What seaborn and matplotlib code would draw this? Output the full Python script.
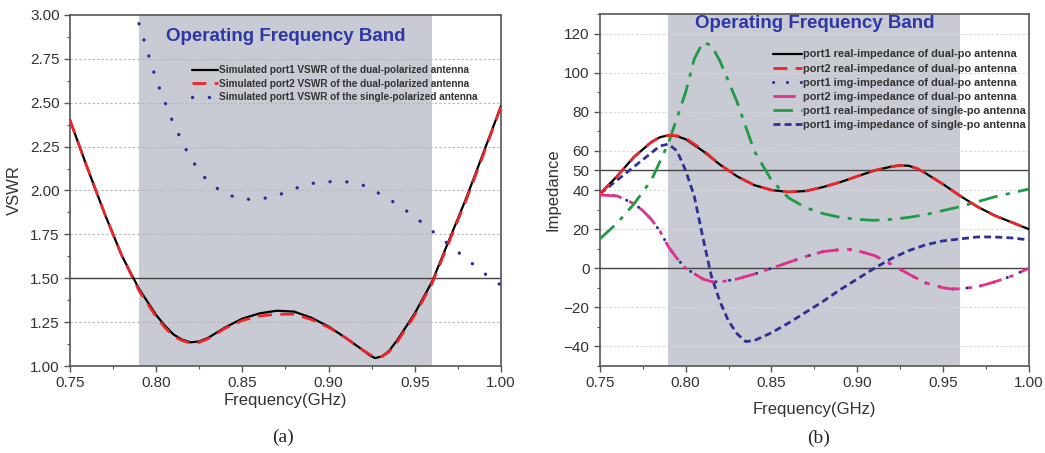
import numpy as np
import pandas as pd
import matplotlib
matplotlib.use("Agg")
import matplotlib.pyplot as plt
import seaborn as sns
from matplotlib.ticker import MultipleLocator, FixedLocator, FormatStrFormatter

# ---------------- data: panel (a) VSWR ----------------
freq_dual = [0.75, 0.76, 0.77, 0.78, 0.79, 0.80, 0.805, 0.81, 0.815, 0.82, 0.825, 0.83, 0.84,
             0.85, 0.86, 0.87, 0.88, 0.89, 0.90, 0.91, 0.92, 0.924, 0.927, 0.931, 0.935,
             0.94, 0.95, 0.96, 0.97, 0.98, 0.99, 1.00]
vswr_port1 = [2.40, 2.13, 1.87, 1.63, 1.44, 1.29, 1.23, 1.18, 1.15, 1.135, 1.14, 1.16, 1.22,
              1.27, 1.30, 1.315, 1.31, 1.275, 1.225, 1.16, 1.09, 1.06, 1.045, 1.055, 1.085,
              1.15, 1.30, 1.48, 1.72, 1.96, 2.22, 2.48]
vswr_port2 = [2.40, 2.13, 1.87, 1.63, 1.43, 1.28, 1.22, 1.17, 1.145, 1.13, 1.135, 1.155, 1.215,
              1.26, 1.285, 1.295, 1.295, 1.265, 1.22, 1.16, 1.09, 1.065, 1.05, 1.055, 1.08,
              1.14, 1.29, 1.47, 1.71, 1.95, 2.21, 2.48]
freq_single = [0.79, 0.80, 0.81, 0.82, 0.83, 0.84, 0.85, 0.86, 0.87, 0.88, 0.89, 0.90, 0.91,
               0.92, 0.93, 0.94, 0.95, 0.96, 0.97, 0.98, 0.99, 1.00]
vswr_single = [2.95, 2.63, 2.38, 2.18, 2.05, 1.98, 1.95, 1.95, 1.97, 2.01, 2.04, 2.05, 2.05,
               2.03, 1.98, 1.92, 1.85, 1.77, 1.69, 1.61, 1.53, 1.46]

# ---------------- data: panel (b) impedance ----------------
freq_b = [0.75, 0.76, 0.77, 0.78, 0.785, 0.79, 0.795, 0.80, 0.81, 0.82, 0.83, 0.84, 0.85,
          0.86, 0.87, 0.88, 0.89, 0.90, 0.91, 0.92, 0.925, 0.93, 0.935, 0.94, 0.95, 0.96,
          0.97, 0.98, 0.99, 1.00]
real_port1 = [38, 47, 57, 64.5, 67, 68, 67.5, 66, 60, 53, 47, 42.5, 40,
              39, 39.5, 41.5, 44, 47, 50, 52, 52.6, 52.4, 51, 48.5, 43, 37,
              31.5, 27, 23.5, 20]
real_port2 = [38, 47, 57, 64.5, 67, 68, 67.8, 66.5, 60.5, 53, 47, 42.5, 40,
              39, 39.5, 41.5, 44, 47, 50, 52, 52.6, 52.4, 51, 48.5, 43, 37,
              31.5, 27, 23.5, 20]

freq_img = [0.75, 0.76, 0.77, 0.775, 0.78, 0.785, 0.79, 0.795, 0.80, 0.81, 0.815, 0.82, 0.83,
            0.84, 0.85, 0.86, 0.87, 0.88, 0.89, 0.895, 0.90, 0.91, 0.92, 0.93, 0.94, 0.95,
            0.955, 0.96, 0.97, 0.98, 0.99, 1.00]
img_port1 = [37.5, 37, 33, 29.5, 25, 19, 11, 5, 0, -5.5, -6.8, -7, -5.5,
             -3, 0, 3, 6, 8.5, 9.5, 9.6, 9, 6.5, 2, -3, -7.5, -10,
             -10.6, -10.5, -9.5, -7, -4, 0]
img_port2 = [37.5, 37, 33, 29.5, 25, 19, 11, 5, 0, -5.5, -6.8, -7, -5.5,
             -3, 0, 3, 6, 8.5, 9.5, 9.6, 9, 6.5, 2, -3, -7.5, -10,
             -10.6, -10.5, -9.5, -7, -4, 0]

freq_sr = [0.75, 0.76, 0.77, 0.78, 0.79, 0.80, 0.805, 0.81, 0.815, 0.82, 0.83, 0.84, 0.85,
           0.86, 0.87, 0.88, 0.89, 0.90, 0.91, 0.92, 0.93, 0.94, 0.95, 0.96, 0.97, 0.98,
           0.99, 1.00]
real_single = [15, 23, 33, 45, 64, 90, 107, 115.5, 114, 106, 85, 60, 45,
               36, 31, 28, 26, 25, 24.5, 25, 26, 27.5, 29.5, 31.5, 34, 36.5,
               38.5, 40.5]

freq_si = [0.75, 0.76, 0.77, 0.78, 0.785, 0.79, 0.795, 0.80, 0.805, 0.81, 0.815, 0.82,
           0.825, 0.83, 0.835, 0.84, 0.85, 0.86, 0.87, 0.88, 0.89, 0.90, 0.91, 0.92,
           0.93, 0.94, 0.95, 0.96, 0.97, 0.98, 0.99, 1.00]
img_single = [38, 45, 52, 59, 62.5, 63.5, 60, 50, 37, 16, -4, -17,
              -27, -33.5, -37.5, -37, -33, -28, -22.5, -17, -11, -5.5, 0, 5,
              9, 12, 14, 15, 16, 16, 15.5, 14.5]

band = (0.79, 0.96)

legend_a = ["Simulated port1 VSWR of the dual-polarized antenna",
            "Simulated port2 VSWR of the dual-polarized antenna",
            "Simulated port1 VSWR of the single-polarized antenna"]
legend_b = ["port1 real-impedance of dual-po antenna",
            "port2 real-impedance of dual-po antenna",
            "port1 img-impedance of dual-po antenna",
            "port2 img-impedance of dual-po antenna",
            "port1 real-impedance of single-po antenna",
            "port1 img-impedance of single-po antenna"]

# ---------------- style ----------------
sns.set_theme(style="ticks")
plt.rcParams['font.family'] = ['Liberation Sans', 'DejaVu Sans']
plt.rcParams['axes.edgecolor'] = '#555555'
plt.rcParams['xtick.color'] = '#555555'
plt.rcParams['ytick.color'] = '#555555'
plt.rcParams['xtick.labelcolor'] = '#333333'
plt.rcParams['ytick.labelcolor'] = '#333333'

fig = plt.figure(figsize=(10.45, 4.53), dpi=100)
ax1 = fig.add_axes([0.067, 0.192, 0.4124, 0.775])
ax2 = fig.add_axes([0.574, 0.192, 0.4105, 0.777])

band_color = '#c8cbd3'
title_color = '#2e37a5'


def style_axes(ax):
    for s in ax.spines.values():
        s.set_linewidth(1.2)
        s.set_color('#555555')
    ax.tick_params(which='major', direction='out', length=4, width=1, labelsize=11)
    ax.tick_params(which='minor', direction='out', length=2.5, width=0.8)
    ax.set_xlim(0.75, 1.0)
    ax.xaxis.set_major_locator(MultipleLocator(0.05))
    ax.xaxis.set_minor_locator(MultipleLocator(0.025))
    ax.xaxis.set_major_formatter(FormatStrFormatter('%.2f'))


# ---------------- panel (a) ----------------
ax1.axvspan(*band, color=band_color, lw=0, zorder=0)
ax1.set_ylim(1.0, 3.0)
ax1.yaxis.set_major_locator(MultipleLocator(0.25))
ax1.yaxis.set_minor_locator(MultipleLocator(0.125))
ax1.yaxis.set_major_formatter(FormatStrFormatter('%.2f'))
for yv in np.arange(1.25, 3.0, 0.25):
    ax1.axhline(yv, color='#b5b5b5', lw=0.8, ls=(0, (2, 2)), zorder=0.5)
ax1.axhline(1.5, color='#444444', lw=1.0, zorder=1)

df_a1 = pd.DataFrame({"f": freq_dual, "v": vswr_port1})
df_a2 = pd.DataFrame({"f": freq_dual, "v": vswr_port2})
df_a3 = pd.DataFrame({"f": freq_single, "v": vswr_single})
sns.lineplot(data=df_a1, x="f", y="v", ax=ax1, color='black', lw=1.6, label=legend_a[0], zorder=3)
sns.lineplot(data=df_a2, x="f", y="v", ax=ax1, color='#e8262b', lw=2.0,
             linestyle=(0, (5, 3)), label=legend_a[1], zorder=4)
sns.lineplot(data=df_a3, x="f", y="v", ax=ax1, color='#2a2d9a', lw=2.4,
             linestyle=(0, (0.05, 5)), label=legend_a[2], zorder=3)
ax1.lines[-1].set_dash_capstyle('round')
style_axes(ax1)
ax1.set_xlabel("Frequency(GHz)", fontsize=12, color='#333333', labelpad=2)
ax1.set_ylabel("VSWR", fontsize=12, color='#333333', labelpad=6)
ax1.text(0.875, 2.88, "Operating Frequency Band", ha='center', va='center',
         fontsize=13.5, fontweight='bold', color=title_color)
leg1 = ax1.legend(loc='upper right', bbox_to_anchor=(0.955, 0.868), frameon=False,
                  prop={'size': 7.2, 'weight': 'bold'}, handlelength=2.6,
                  handletextpad=0.1, labelspacing=0.35, borderaxespad=0)
for t in leg1.get_texts():
    t.set_color('#333333')
for h in leg1.get_lines()[2:]:
    h.set_dash_capstyle('round')

# ---------------- panel (b) ----------------
ax2.axvspan(*band, color=band_color, lw=0, zorder=0)
ax2.set_ylim(-50, 130)
ax2.yaxis.set_major_locator(FixedLocator([-40, -20, 0, 20, 40, 50, 60, 80, 100, 120]))
ax2.yaxis.set_minor_locator(MultipleLocator(10))
for yv in [-40, -20, 20, 40, 60, 80, 100, 120]:
    ax2.axhline(yv, color='#d5d5d5', lw=0.8, ls=(0, (2, 2)), zorder=0.5)
ax2.axhline(50, color='#444444', lw=1.0, zorder=1)
ax2.axhline(0, color='#444444', lw=1.0, zorder=1)

df_b1 = pd.DataFrame({"f": freq_b, "v": real_port1})
df_b2 = pd.DataFrame({"f": freq_b, "v": real_port2})
df_b3 = pd.DataFrame({"f": freq_img, "v": img_port1})
df_b4 = pd.DataFrame({"f": freq_img, "v": img_port2})
df_b5 = pd.DataFrame({"f": freq_sr, "v": real_single})
df_b6 = pd.DataFrame({"f": freq_si, "v": img_single})
sns.lineplot(data=df_b1, x="f", y="v", ax=ax2, color='black', lw=1.6, label=legend_b[0], zorder=3)
sns.lineplot(data=df_b2, x="f", y="v", ax=ax2, color='#e8262b', lw=2.0,
             linestyle=(0, (5, 3)), label=legend_b[1], zorder=4)
sns.lineplot(data=df_b3, x="f", y="v", ax=ax2, color='#2a2d9a', lw=2.2,
             linestyle=(0, (0.05, 4.5)), label=legend_b[2], zorder=3)
ax2.lines[-1].set_dash_capstyle('round')
sns.lineplot(data=df_b4, x="f", y="v", ax=ax2, color='#e0308a', lw=2.0,
             linestyle=(0, (8, 3, 1.5, 3)), label=legend_b[3], zorder=4)
sns.lineplot(data=df_b5, x="f", y="v", ax=ax2, color='#1f9a45', lw=2.0,
             linestyle=(0, (7, 3, 1.5, 3)), label=legend_b[4], zorder=3)
sns.lineplot(data=df_b6, x="f", y="v", ax=ax2, color='#2f2f96', lw=2.0,
             linestyle=(0, (2.5, 1.5)), label=legend_b[5], zorder=3)
style_axes(ax2)
ax2.set_xlabel("Frequency(GHz)", fontsize=12, color='#333333', labelpad=8)
ax2.set_ylabel("Impedance", fontsize=12, color='#333333', labelpad=2)
ax2.text(0.875, 125, "Operating Frequency Band", ha='center', va='center',
         fontsize=13.5, fontweight='bold', color=title_color)
leg2 = ax2.legend(loc='upper right', bbox_to_anchor=(1.003, 0.912), frameon=False,
                  prop={'size': 7.9, 'weight': 'bold'}, handlelength=2.6,
                  handletextpad=0.1, labelspacing=0.38, borderaxespad=0)
for t in leg2.get_texts():
    t.set_color('#333333')
leg2.get_lines()[2].set_dash_capstyle('round')

fig.text(0.271, 0.035, "(a)", ha='center', va='center', fontsize=14,
         family=['Liberation Serif', 'DejaVu Serif'])
fig.text(0.783, 0.033, "(b)", ha='center', va='center', fontsize=14,
         family=['Liberation Serif', 'DejaVu Serif'])

fig.savefig("out.png", dpi=100)
